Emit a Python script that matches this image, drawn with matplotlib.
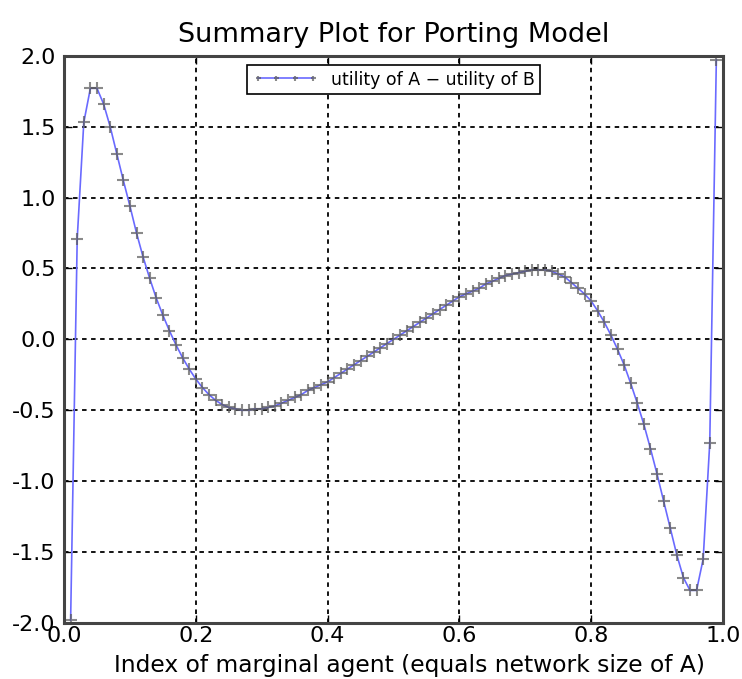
import numpy as np
import matplotlib
matplotlib.use('Agg')
import matplotlib.pyplot as plt

# index of marginal agent, 0.01 .. 0.99
agent_index = [0.01, 0.02, 0.03, 0.04, 0.05, 0.06, 0.07, 0.08, 0.09, 0.10,
               0.11, 0.12, 0.13, 0.14, 0.15, 0.16, 0.17, 0.18, 0.19, 0.20,
               0.21, 0.22, 0.23, 0.24, 0.25, 0.26, 0.27, 0.28, 0.29, 0.30,
               0.31, 0.32, 0.33, 0.34, 0.35, 0.36, 0.37, 0.38, 0.39, 0.40,
               0.41, 0.42, 0.43, 0.44, 0.45, 0.46, 0.47, 0.48, 0.49, 0.50,
               0.51, 0.52, 0.53, 0.54, 0.55, 0.56, 0.57, 0.58, 0.59, 0.60,
               0.61, 0.62, 0.63, 0.64, 0.65, 0.66, 0.67, 0.68, 0.69, 0.70,
               0.71, 0.72, 0.73, 0.74, 0.75, 0.76, 0.77, 0.78, 0.79, 0.80,
               0.81, 0.82, 0.83, 0.84, 0.85, 0.86, 0.87, 0.88, 0.89, 0.90,
               0.91, 0.92, 0.93, 0.94, 0.95, 0.96, 0.97, 0.98, 0.99]

# utility of A minus utility of B
utility_diff = [-1.98, 0.71, 1.53, 1.77, 1.77, 1.66, 1.50, 1.31, 1.12, 0.94,
                0.75, 0.58, 0.43, 0.29, 0.17, 0.06, -0.04, -0.13, -0.21, -0.28,
                -0.34, -0.39, -0.43, -0.46, -0.48, -0.49, -0.50, -0.50, -0.49, -0.49,
                -0.48, -0.47, -0.45, -0.43, -0.41, -0.39, -0.36, -0.34, -0.32, -0.30,
                -0.27, -0.24, -0.21, -0.18, -0.15, -0.12, -0.09, -0.06, -0.03, 0.00,
                0.03, 0.06, 0.09, 0.12, 0.15, 0.18, 0.21, 0.24, 0.27, 0.30,
                0.32, 0.34, 0.36, 0.39, 0.41, 0.43, 0.45, 0.46, 0.47, 0.48,
                0.49, 0.49, 0.49, 0.48, 0.46, 0.44, 0.40, 0.36, 0.32, 0.27,
                0.20, 0.12, 0.03, -0.07, -0.18, -0.31, -0.45, -0.60, -0.77, -0.95,
                -1.14, -1.33, -1.52, -1.68, -1.77, -1.77, -1.55, -0.73, 1.97]

xticks = [0.0, 0.2, 0.4, 0.6, 0.8, 1.0]
yticks = [-2.0, -1.5, -1.0, -0.5, 0.0, 0.5, 1.0, 1.5, 2.0]

fig = plt.figure(figsize=(7.42, 6.79), dpi=100)
ax = fig.add_axes([0.0863, 0.0825, 0.888, 0.8355])

ax.plot(agent_index, utility_diff, color='#6a6aff', linewidth=1.2,
        marker='+', markersize=8, markeredgewidth=1.5,
        markeredgecolor=(0.35, 0.35, 0.35, 0.7),
        label='utility of A \u2212 utility of B')

ax.set_xlim(0, 1)
ax.set_ylim(-2, 2)
ax.set_xticks(xticks)
ax.set_yticks(yticks)
ax.set_xticklabels(['%.1f' % t for t in xticks])
ax.set_yticklabels(['%.1f' % t for t in yticks])
ax.grid(True, color='black', linestyle=(0, (2.5, 2.5)), linewidth=1.3)
ax.tick_params(direction='in', labelsize=16, top=True, right=True,
               length=6, width=1)
ax.tick_params(axis='x', pad=2)
ax.tick_params(axis='y', pad=6)
for sp in ax.spines.values():
    sp.set_linewidth(2.2)
    sp.set_color('#444444')

ax.set_title('Summary Plot for Porting Model', fontsize=19.5, pad=10)
ax.set_xlabel('Index of marginal agent (equals network size of A)',
              fontsize=16.8)
ax.xaxis.set_label_coords(0.525, -0.054)
ax.xaxis.label.set_va('top')

leg = ax.legend(loc='upper center', bbox_to_anchor=(0.5, 0.983),
                borderaxespad=0, fontsize=12.5, numpoints=4, markerscale=0.45,
                fancybox=False, framealpha=1, borderpad=0.3,
                handlelength=3.8, handletextpad=0.7)
leg.get_frame().set_edgecolor('black')
leg.get_frame().set_linewidth(1.2)

fig.savefig('out.png', dpi=100)
